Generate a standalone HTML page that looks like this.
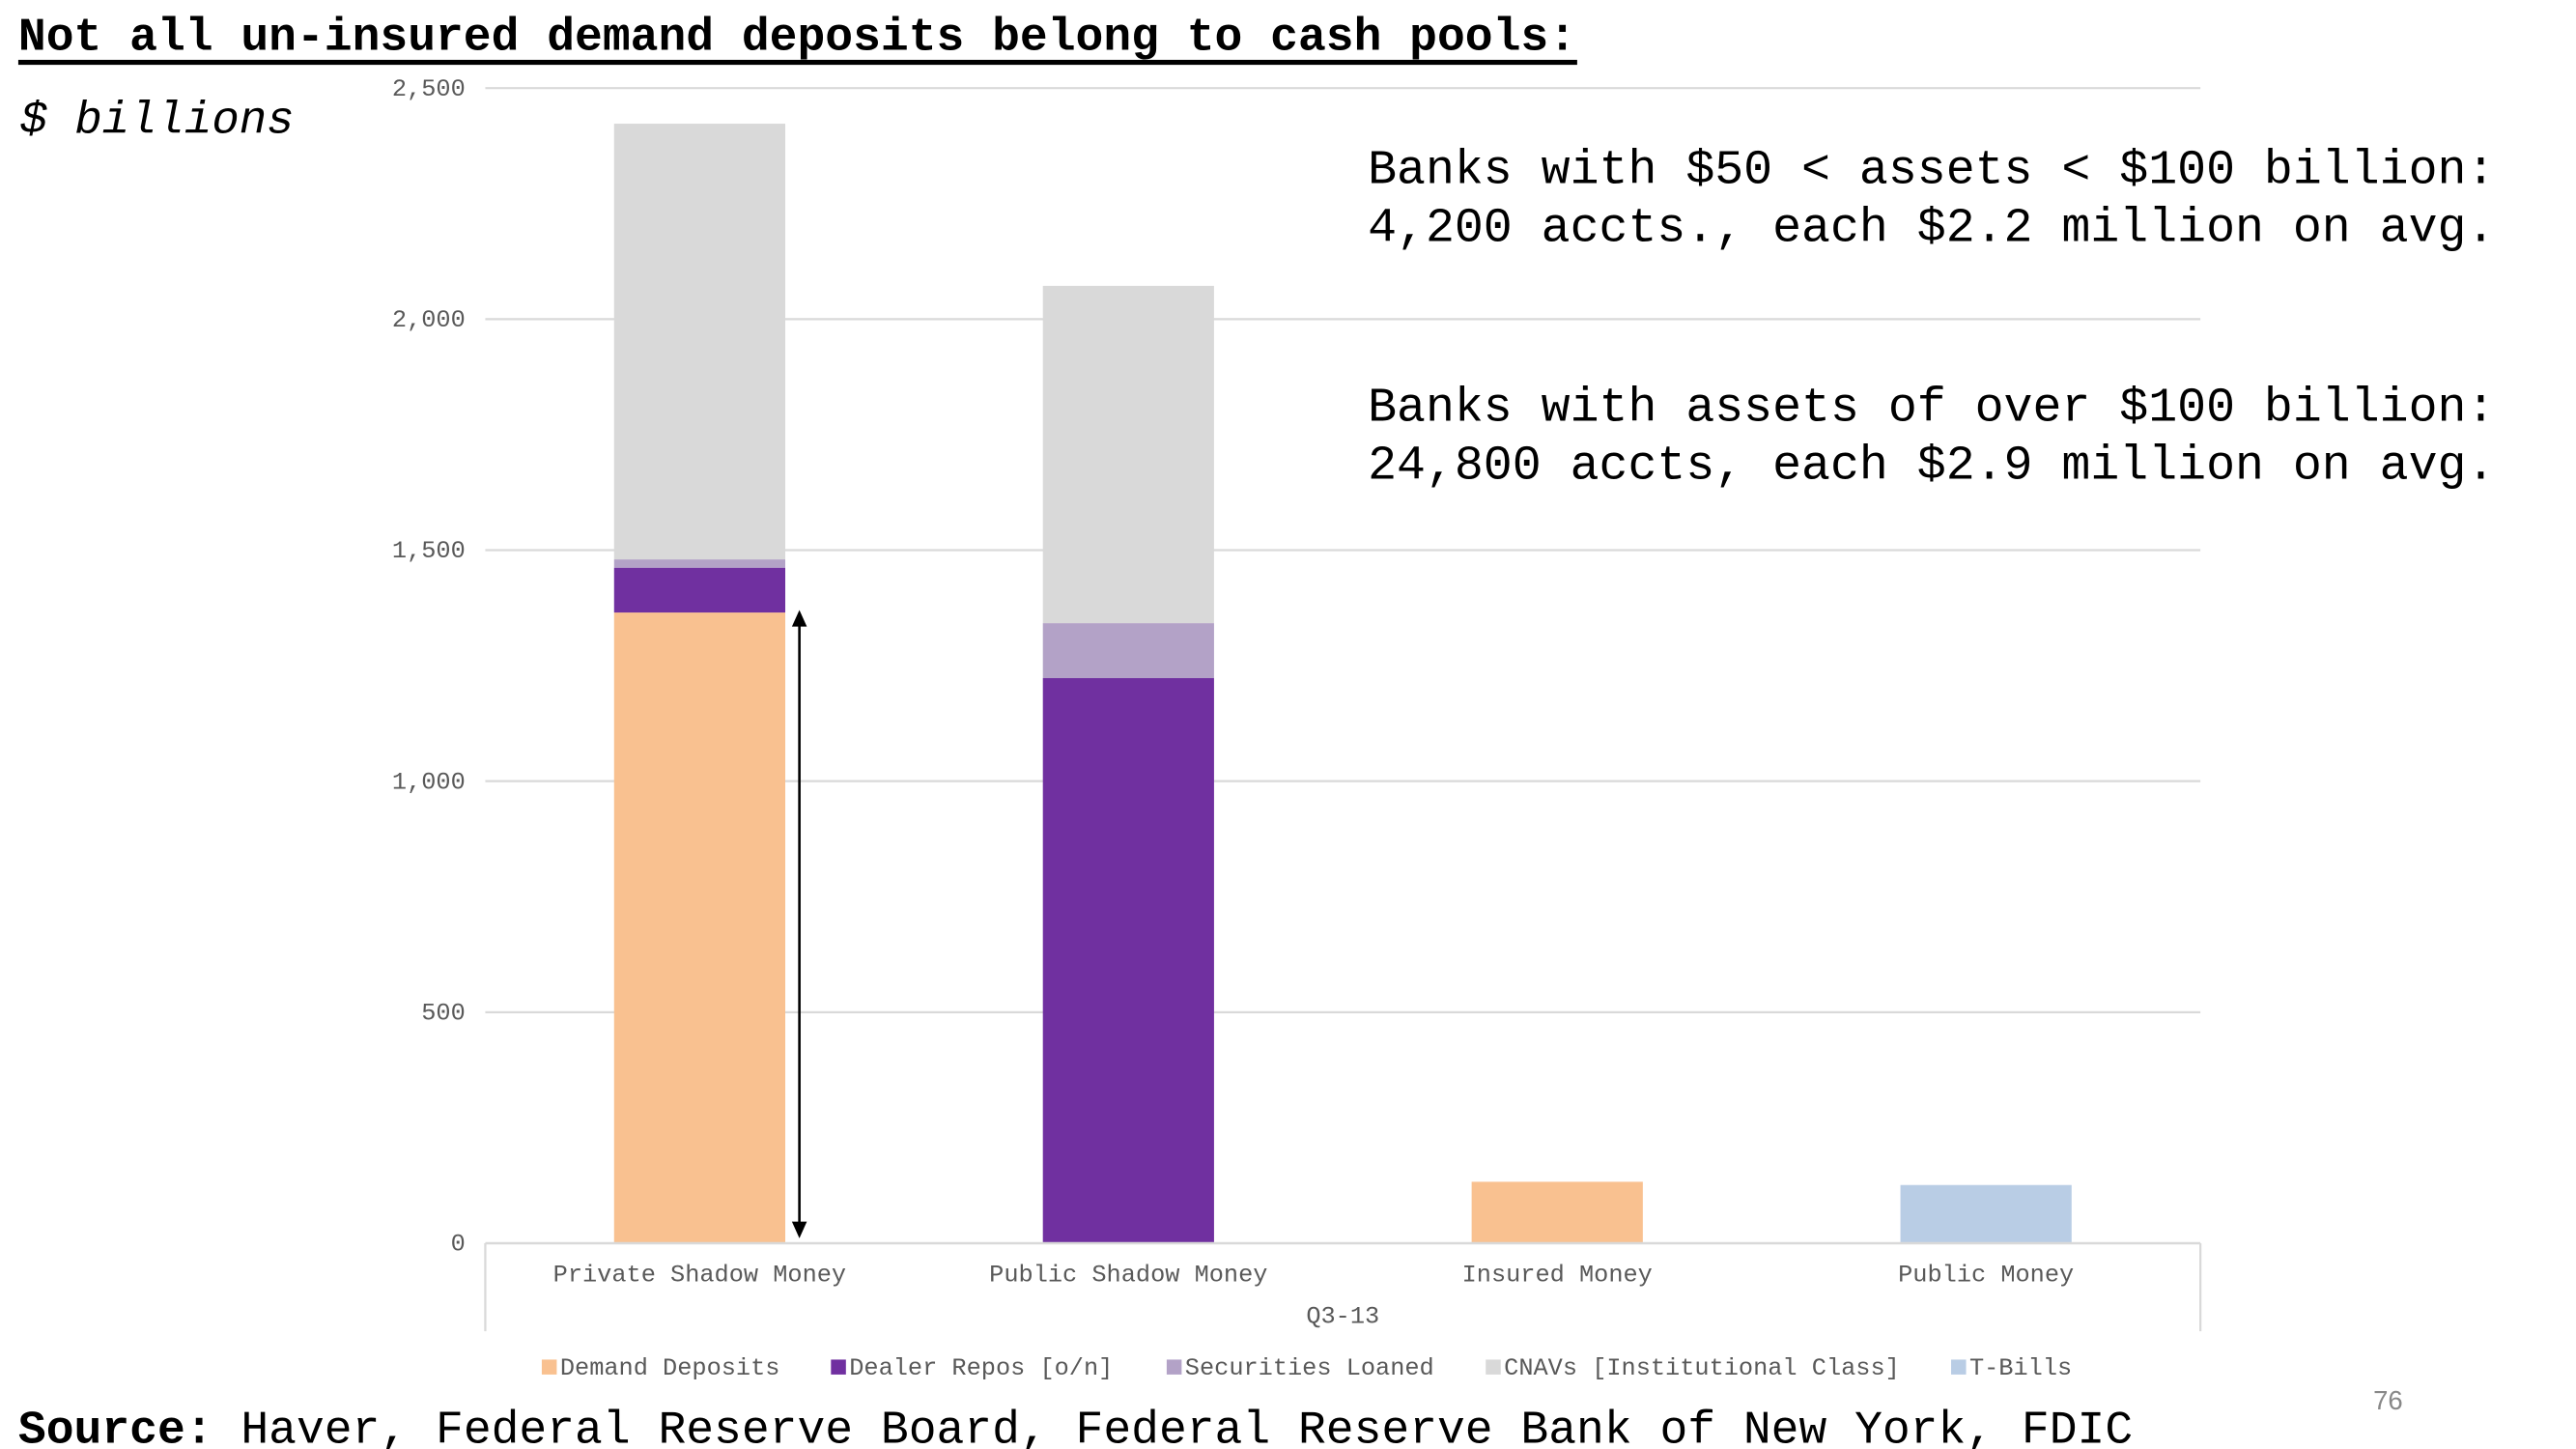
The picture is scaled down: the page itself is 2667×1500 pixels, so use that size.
<!DOCTYPE html>
<html><head><meta charset="utf-8"><style>
html,body{margin:0;padding:0;background:#fff;}
svg{display:block;}
text{font-family:"Liberation Mono","DejaVu Sans Mono",monospace;}
</style></head><body>
<svg id="chart" width="2667" height="1500" viewBox="0 0 1550 871.8" preserveAspectRatio="none" xmlns="http://www.w3.org/2000/svg">
<text x="11" y="30" font-size="27.9" font-weight="bold" fill="#000">Not all un-insured demand deposits belong to cash pools:</text>
<rect x="11" y="36" width="938" height="3" fill="#000"/>
<text x="12" y="80" font-size="27.5" font-style="italic" fill="#000">$ billions</text>
<g id="grid"></g>
<g id="bars"></g>
<g id="axis"></g>
<line x1="481" y1="375" x2="481" y2="738" stroke="#000" stroke-width="1.5"/>
<polygon points="481,367 476.5,377 485.5,377" fill="#000"/>
<polygon points="481,745 476.5,735 485.5,735" fill="#000"/>
<text x="823" y="110" font-size="29" fill="#000">Banks with $50 &lt; assets &lt; $100 billion:</text>
<text x="823" y="145" font-size="29" fill="#000">4,200 accts., each $2.2 million on avg.</text>
<text x="823" y="253" font-size="29" fill="#000">Banks with assets of over $100 billion:</text>
<text x="823" y="288" font-size="29" fill="#000">24,800 accts, each $2.9 million on avg.</text>
<g id="legend"></g>
<text x="11" y="868" font-size="27.9" fill="#000"><tspan font-weight="bold">Source:</tspan> Haver, Federal Reserve Board, Federal Reserve Bank of New York, FDIC</text>
<text x="1428" y="848" font-size="16" fill="#888" style="font-family:'Liberation Sans',sans-serif">76</text>
</svg>
<script>
const categories = ["Private Shadow Money","Public Shadow Money","Insured Money","Public Money"];
const seriesNames = ["Demand Deposits","Dealer Repos [o/n]","Securities Loaned","CNAVs [Institutional Class]","T-Bills"];
const demandDeposits = [1365, 0, 133, 0];
const dealerRepos = [97, 1223, 0, 0];
const securitiesLoaned = [18, 119, 0, 0];
const cnavs = [943, 730, 0, 0];
const tBills = [0, 0, 0, 126];
const yTicks = [0, 500, 1000, 1500, 2000, 2500];
const yTickLabels = ["0","500","1,000","1,500","2,000","2,500"];
const colors = ["#f9c190","#7030a0","#b3a2c7","#d9d9d9","#b9cde5"];
const series = [demandDeposits, dealerRepos, securitiesLoaned, cnavs, tBills];

const NS = "http://www.w3.org/2000/svg";
const plotL = 292, plotR = 1324, y0 = 748, yTop = 53, yMax = 2500;
function yScale(v){ return y0 - (v / yMax) * (y0 - yTop); }
const band = (plotR - plotL) / categories.length;
function xCenter(i){ return plotL + band * (i + 0.5); }
const barW = 103;
function mk(tag, attrs, parent){ const e = document.createElementNS(NS, tag); for (const k in attrs) e.setAttribute(k, attrs[k]); parent.appendChild(e); return e; }

const grid = document.getElementById('grid');
yTicks.forEach((t, i) => {
  if (t > 0) {
    const l = mk('line', {x1: plotL, x2: plotR, y1: yScale(t), y2: yScale(t), stroke: '#d9d9d9', 'stroke-width': 1.3}, grid);
    
    
  }
  const tx = mk('text', {x: 280, y: yScale(t) + 4.5, 'font-size': 14.7, fill: '#595959', 'text-anchor': 'end'}, grid);
  tx.textContent = yTickLabels[i];
  
  
});

const bars = document.getElementById('bars');
categories.forEach((c, i) => {
  let cum = 0;
  series.forEach((s, j) => {
    const v = s[i];
    if (v <= 0) return;
    const yt = yScale(cum + v), yb = yScale(cum);
    const r = mk('rect', {x: xCenter(i) - barW / 2, y: yt, width: barW, height: yb - yt, fill: colors[j]}, bars);
    
    
    cum += v;
  });
});

const axis = document.getElementById('axis');
const ax = mk('line', {x1: plotL, x2: plotR, y1: y0, y2: y0, stroke: '#d9d9d9', 'stroke-width': 1.5}, axis);


[plotL, plotR].forEach(x => {
  const v = mk('line', {x1: x, x2: x, y1: y0, y2: 801, stroke: '#d9d9d9', 'stroke-width': 1.3}, axis);
  
  
});
categories.forEach((c, i) => {
  const t = mk('text', {x: xCenter(i), y: 771, 'font-size': 14.7, fill: '#595959', 'text-anchor': 'middle'}, axis);
  t.textContent = c;
  
  
});
const q = mk('text', {x: (plotL + plotR) / 2, y: 796, 'font-size': 14.7, fill: '#595959', 'text-anchor': 'middle'}, axis);
q.textContent = 'Q3-13';



const legend = document.getElementById('legend');
const legX = [326, 500, 702, 894, 1174];
seriesNames.forEach((n, j) => {
  const r = mk('rect', {x: legX[j], y: 818, width: 9, height: 9, fill: colors[j]}, legend);
  
  
  const t = mk('text', {x: legX[j] + 11, y: 827, 'font-size': 14.7, fill: '#595959'}, legend);
  t.textContent = n;
  
  
});
</script>
</body></html>
